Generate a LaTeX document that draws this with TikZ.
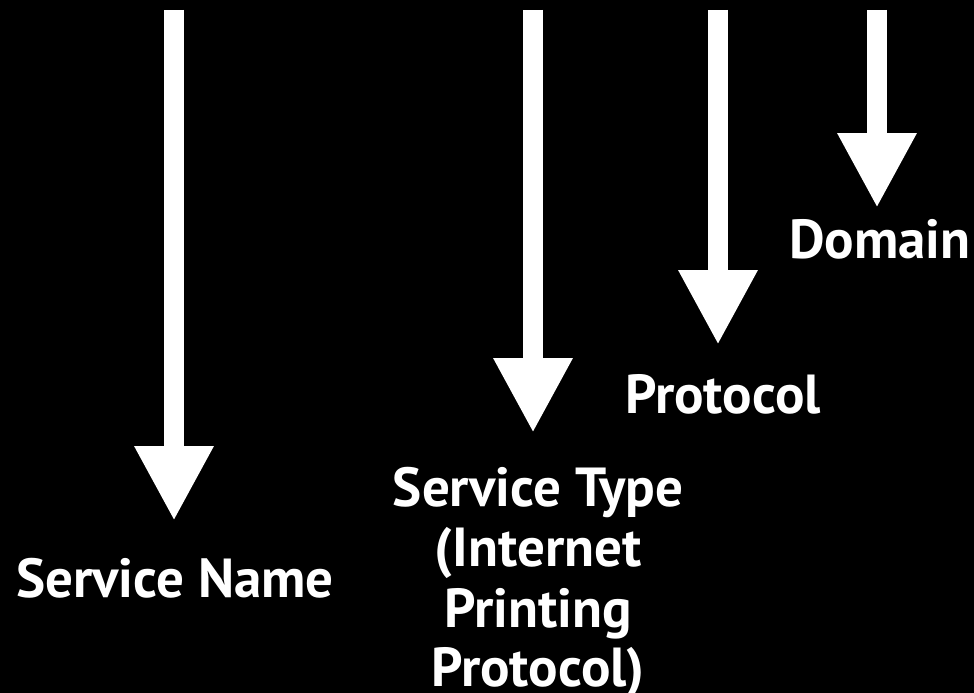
\documentclass[tikz,border=0pt]{standalone}
\usepackage{fontspec}
\setmainfont{PT Sans}
\usetikzlibrary{arrows.meta}
\begin{document}
\begin{tikzpicture}[x=1pt,y=-1pt,
  bigarrow/.style={draw=white,line width=20pt,-{Triangle[width=74pt,length=75pt]}},
  lbl/.style={text=white,font=\bfseries\fontsize{55}{60}\selectfont,anchor=base,inner sep=0pt}]
\fill[black] (0,0) rectangle (974,693);
\useasboundingbox (0,0) rectangle (974,693);
\coordinate (s1) at (174,10);
\coordinate (e1) at (174,521);
\coordinate (s2) at (533,10);
\coordinate (e2) at (533,433);
\coordinate (s3) at (718,10);
\coordinate (e3) at (718,345);
\coordinate (s4) at (877,10);
\coordinate (e4) at (877,208);
\draw[bigarrow] (s1) -- (e1);
\draw[bigarrow] (s2) -- (e2);
\draw[bigarrow] (s3) -- (e3);
\draw[bigarrow] (s4) -- (e4);
\node[lbl] (name) at (175,597) {Service Name};
\node[lbl] (st1) at (538,506) {Service Type};
\node[lbl] (st2) at (538,566) {(Internet};
\node[lbl] (st3) at (538,627) {Printing};
\node[lbl] (st4) at (538,686) {Protocol)};
\node[lbl] (proto) at (723,413) {Protocol};
\node[lbl] (dom) at (880,258) {Domain};
\end{tikzpicture}
\end{document}
